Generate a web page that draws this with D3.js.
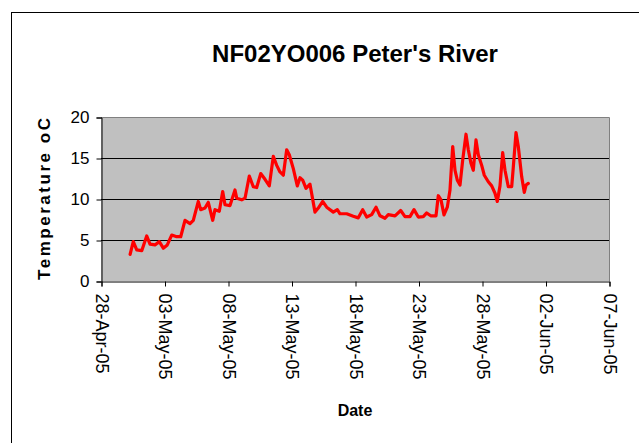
<!DOCTYPE html>
<html><head><meta charset="utf-8">
<script src="https://cdn.jsdelivr.net/npm/d3@7"></script>
<style>body{margin:0;background:#fff}svg{display:block;font-family:Arial,"Liberation Sans",sans-serif}</style>
</head><body><svg id="c" width="639" height="443"></svg>
<script>
const title = "NF02YO006 Peter's River";
const yLabel = "Temperature oC";
const xLabel = "Date";
const yTicks = [0, 5, 10, 15, 20];
const xTickDates = ["2005-04-28","2005-05-03","2005-05-08","2005-05-13","2005-05-18","2005-05-23","2005-05-28","2005-06-02","2005-06-07"];
const times = ["04-30 07:00","04-30 13:00","04-30 19:30","05-01 05:00","05-01 14:20","05-01 20:36","05-02 06:00","05-02 14:10","05-02 21:45","05-03 05:17","05-03 13:36","05-03 23:04","05-04 06:37","05-04 14:44","05-05 00:12","05-05 06:26","05-05 15:52","05-05 20:24","05-06 04:32","05-06 10:47","05-06 19:05","05-06 23:25","05-07 07:33","05-07 14:00","05-07 18:20","05-08 03:46","05-08 13:13","05-08 16:26","05-09 01:53","05-09 08:08","05-09 16:15","05-09 23:48","05-10 06:14","05-10 13:48","05-10 21:55","05-11 06:03","05-11 13:36","05-11 20:02","05-12 02:15","05-12 08:30","05-12 14:55","05-12 19:50","05-13 03:24","05-13 10:58","05-13 16:03","05-13 21:10","05-14 03:24","05-14 10:58","05-14 20:24","05-15 02:38","05-15 10:58","05-15 18:32","05-16 07:00","05-16 14:33","05-16 19:39","05-17 08:18","05-17 20:47","05-18 06:14","05-18 14:33","05-18 22:06","05-19 07:33","05-19 15:41","05-19 23:15","05-20 08:41","05-20 14:56","05-21 03:36","05-21 14:21","05-21 22:29","05-22 07:56","05-22 15:30","05-22 23:37","05-23 09:04","05-23 15:30","05-23 23:04","05-24 09:04","05-24 13:25","05-24 18:32","05-25 00:12","05-25 06:26","05-25 11:31","05-25 16:38","05-25 21:00","05-26 01:19","05-26 06:26","05-26 11:31","05-26 17:46","05-26 22:06","05-27 03:13","05-27 07:33","05-27 12:40","05-27 17:01","05-27 23:26","05-28 04:21","05-28 11:54","05-28 18:20","05-29 00:35","05-29 04:55","05-29 10:01","05-29 15:07","05-29 19:28","05-30 01:42","05-30 08:08","05-30 11:10","05-30 16:15","05-30 20:36","05-31 03:02","05-31 07:56","05-31 11:10","05-31 15:30"];
const temps = [3.25,4.8,3.8,3.7,5.5,4.5,4.4,4.8,4.0,4.4,5.6,5.4,5.4,7.4,7.0,7.4,9.7,8.7,8.9,9.6,7.4,8.7,8.5,10.9,9.3,9.2,11.1,10.1,9.9,10.1,12.8,11.5,11.4,13.1,12.4,11.6,15.2,14.1,13.3,12.9,16.0,15.4,13.7,11.6,12.6,12.3,11.3,11.8,8.4,8.9,9.7,9.0,8.4,8.7,8.2,8.2,7.9,7.7,8.7,7.8,8.1,9.0,7.95,7.65,8.1,7.95,8.6,7.85,7.85,8.7,7.8,7.85,8.3,7.95,7.95,10.4,9.9,8.05,9.0,11.1,16.4,13.5,12.3,11.7,14.75,17.9,16.0,14.35,13.5,17.2,15.4,14.1,12.9,12.1,11.6,10.7,9.7,11.6,15.65,13.5,11.5,11.5,13.9,18.1,16.4,12.7,10.8,11.7,11.9];

const parseT = d3.timeParse("%Y-%m-%d %H:%M");
const parseD = d3.timeParse("%Y-%m-%d");
const data = times.map((t,i)=>({t:parseT("2005-"+t), v:temps[i]}));

const svg = d3.select("#c");
const L=101, R=609, T=117, B=281;

// outer chart frame
svg.append("rect").attr("x",11.5).attr("y",12.5).attr("width",700).attr("height",500)
  .attr("fill","#fff").attr("stroke","#000").attr("stroke-width",1);

const x = d3.scaleTime().domain([parseD(xTickDates[0]), parseD(xTickDates[xTickDates.length-1])]).range([L,R]);
const y = d3.scaleLinear().domain([0,20]).range([B,T]);

svg.append("rect").attr("x",L).attr("y",T).attr("width",R-L).attr("height",B-T).attr("fill","#c0c0c0");

// gridlines
svg.append("g").selectAll("line").data(yTicks.filter(v=>v>0)).join("line")
  .attr("x1",L).attr("x2",R).attr("y1",d=>Math.round(y(d))+0.5).attr("y2",d=>Math.round(y(d))+0.5)
  .attr("stroke","#000").attr("stroke-width",1);
// plot border (top/right)
svg.append("path").attr("d",`M${L},${T+0.5}H${R+0.5}V${B}`).attr("fill","none").attr("stroke","#808080");

// axes
const yAxis = d3.axisLeft(y).tickValues(yTicks).tickSize(5).tickPadding(7).tickFormat(d3.format("d"));
const gy = svg.append("g").attr("transform",`translate(${L+0.5},0.5)`).call(yAxis);
gy.selectAll("text").attr("font-size",17).attr("font-family","Arial, Liberation Sans, sans-serif").attr("fill","#000");
gy.selectAll("line,path").attr("stroke","#000");

const xAxis = d3.axisBottom(x).tickValues(xTickDates.map(parseD)).tickSize(5).tickFormat(d3.timeFormat("%d-%b-%y"));
const gx = svg.append("g").attr("transform",`translate(0.5,${B+0.5})`).call(xAxis);
gx.selectAll("line,path").attr("stroke","#000");
gx.selectAll("text").attr("font-size",18).attr("font-family","Arial, Liberation Sans, sans-serif").attr("fill","#000")
  .attr("transform","rotate(90)").attr("text-anchor","start").attr("x",12).attr("y",0).attr("dy","0.35em");

// line
svg.append("path").datum(data)
  .attr("d",d3.line().x(d=>x(d.t)).y(d=>y(d.v)).curve(d3.curveLinear))
  .attr("fill","none").attr("stroke","#ff0000").attr("stroke-width",3.2).attr("stroke-linejoin","round").attr("stroke-linecap","round");

// titles
svg.append("text").attr("x",(L+R)/2).attr("y",62).attr("text-anchor","middle")
  .attr("font-size",24).attr("font-weight","bold").text(title);
svg.append("text").attr("transform",`translate(50,${(T+B)/2}) rotate(-90)`).attr("text-anchor","middle")
  .attr("font-size",17).attr("font-weight","bold")
  .attr("textLength",162).attr("lengthAdjust","spacing").text(yLabel);
svg.append("text").attr("x",(L+R)/2).attr("y",416).attr("text-anchor","middle")
  .attr("font-size",16).attr("font-weight","bold").text(xLabel);
</script></body></html>
